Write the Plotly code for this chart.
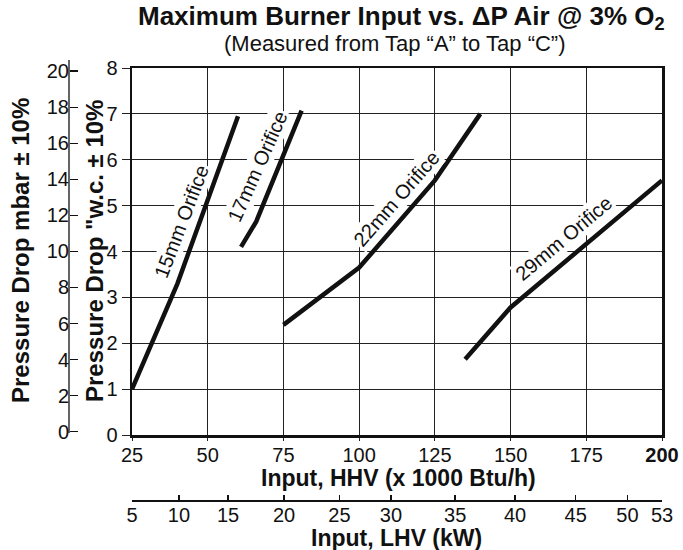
import plotly.graph_objects as go

# ---------------- data ----------------
hhv_15 = [25, 40, 60]
dp_15 = [1.0, 3.3, 6.95]
hhv_17 = [61, 66, 81]
dp_17 = [4.1, 4.65, 7.07]
hhv_22 = [75, 100, 125, 140]
dp_22 = [2.4, 3.65, 5.55, 7.0]
hhv_29 = [135, 150, 200]
dp_29 = [1.65, 2.78, 5.55]

series_names = ["15mm Orifice", "17mm Orifice", "22mm Orifice", "29mm Orifice"]

hhv_ticks = [25, 50, 75, 100, 125, 150, 175, 200]
hhv_ticktext = ["25", "50", "75", "100", "125", "150", "175", "<b>200</b>"]
# LHV (kW) tick marks, positioned in HHV units as drawn on the chart
lhv_tick_pos = [25, 40.5, 56.7, 75.2, 93.5, 110.5, 131.7, 151.5, 171.5, 188.6, 200]
lhv_labels = ["5", "10", "15", "20", "25", "30", "35", "40", "45", "50", "53"]
wc_ticks = [0, 1, 2, 3, 4, 5, 6, 7, 8]
mbar_ticks = [0, 2, 4, 6, 8, 10, 12, 14, 16, 18, 20]

# ---------------- layout geometry (pixels) ----------------
W, H = 683, 550
ML, MR, MT, MB = 0, 21, 50, 50
PW = W - ML - MR
PH = H - MT - MB


def px(x):
    return (x - ML) / PW


def py(y):
    return (H - MB - y) / PH


FONT = "Liberation Sans, Arial, Helvetica, sans-serif"

fig = go.Figure()
for xs, ys, nm in zip([hhv_15, hhv_17, hhv_22, hhv_29],
                      [dp_15, dp_17, dp_22, dp_29], series_names):
    fig.add_trace(go.Scatter(x=xs, y=ys, mode="lines", name=nm,
                             line=dict(color="#111111", width=4.5),
                             showlegend=False, hoverinfo="skip"))

# helper traces that activate the secondary axes (no visible marks)
fig.add_trace(go.Scatter(x=[25], y=[0], xaxis="x2", yaxis="y", mode="markers",
                         marker=dict(opacity=0), showlegend=False,
                         hoverinfo="skip"))
fig.add_trace(go.Scatter(x=[25], y=[0], xaxis="x", yaxis="y2", mode="markers",
                         marker=dict(opacity=0), showlegend=False,
                         hoverinfo="skip"))

tickfont = dict(family=FONT, size=20, color="#111111")

fig.update_layout(
    width=W, height=H, autosize=False,
    margin=dict(l=ML, r=MR, t=MT, b=MB, pad=0),
    paper_bgcolor="white", plot_bgcolor="white",
    font=dict(family=FONT, color="#111111"),
    showlegend=False,
    xaxis=dict(domain=[px(132), 1], range=[25, 200], tickvals=hhv_ticks,
               ticktext=hhv_ticktext, showgrid=True, gridcolor="#222222",
               gridwidth=1, showline=True, linecolor="#111111", linewidth=2.5,
               mirror=True, ticks="outside", ticklen=3, tickcolor="#222222",
               tickfont=tickfont, zeroline=False, anchor="y",
               ticklabelstandoff=-3, automargin=False),
    yaxis=dict(domain=[py(435), py(68)], range=[0, 8], tickvals=wc_ticks,
               showgrid=True, gridcolor="#222222", gridwidth=1,
               showline=True, linecolor="#111111", linewidth=2.5, mirror=True,
               ticks="outside", ticklen=8, tickcolor="#222222",
               tickfont=tickfont, zeroline=False, anchor="x",
               automargin=False),
    xaxis2=dict(overlaying="x", anchor="free", position=0, range=[25, 200],
                tickvals=lhv_tick_pos, ticktext=lhv_labels, showgrid=False,
                showline=True, linecolor="#111111", linewidth=1.5,
                ticks="inside", ticklen=5, tickcolor="#111111", tickwidth=1.5,
                tickfont=tickfont, zeroline=False, side="bottom",
                ticklabelstandoff=-4, automargin=False),
    yaxis2=dict(overlaying="y", anchor="free", position=px(69),
                range=[-0.183, 20.17], tickvals=mbar_ticks, showgrid=False,
                showline=False, ticks="inside", ticklen=8,
                tickcolor="#111111", tickwidth=1.2, tickfont=tickfont,
                zeroline=False, side="left", automargin=False),
)

# mbar axis line
fig.add_shape(type="line", xref="paper", yref="paper",
              x0=px(69), x1=px(69), y0=py(433), y1=py(60),
              line=dict(color="#111111", width=1.3))

ann = []
ann.append(dict(text="<b>Maximum Burner Input vs. ΔP Air @ 3% O<sub>2</sub></b>",
                x=px(401), y=py(18), font=dict(size=26)))
ann.append(dict(text="(Measured from Tap “A” to Tap “C”)",
                x=px(395), y=py(43), font=dict(size=22)))
ann.append(dict(text="<b>Input, HHV (x 1000 Btu/h)</b>",
                x=px(398), y=py(478), font=dict(size=23)))
ann.append(dict(text="<b>Input, LHV (kW)</b>",
                x=px(397), y=py(538), font=dict(size=23)))
ann.append(dict(text="<b>Pressure Drop mbar ± 10%</b>",
                x=px(20), y=py(251), textangle=-90, font=dict(size=24)))
ann.append(dict(text="<b>Pressure Drop \"w.c. ± 10%</b>",
                x=px(94), y=py(251), textangle=-90, font=dict(size=24)))
for a in ann:
    a.update(xref="paper", yref="paper", showarrow=False,
             xanchor="center", yanchor="middle")
    a["font"].update(family=FONT, color="#111111")
    fig.add_annotation(**a)

# orifice labels along the curves
label_x = [41.2, 66.3, 112.2, 167.6]
label_y = [4.65, 5.85, 5.15, 4.30]
label_angle = [-69, -66, -49, -40]
for nm, lx, ly, ang in zip(series_names, label_x, label_y, label_angle):
    fig.add_annotation(text=nm, x=lx, y=ly, xref="x", yref="y",
                       showarrow=False, textangle=ang, bgcolor="white",
                       borderpad=1,
                       font=dict(family=FONT, size=20, color="#111111"))

fig.write_html(
    "out.html",
    config={"displayModeBar": False, "staticPlot": True},
    post_script="document.body.style.margin='0';"
                "document.body.style.overflow='hidden';",
)
